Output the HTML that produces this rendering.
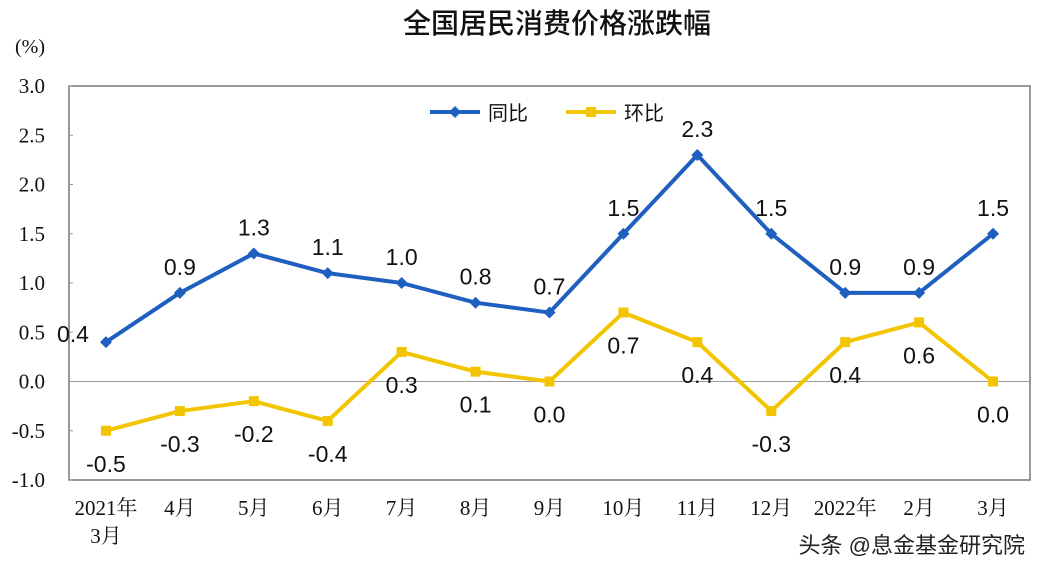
<!DOCTYPE html>
<html><head><meta charset="utf-8"><style>
body{margin:0;background:#fff;}
svg text{font-family:"Liberation Sans","Noto Sans CJK SC",sans-serif;}
.serif{font-family:"Liberation Serif","Noto Serif CJK SC","Noto Sans CJK SC",serif !important;}
</style></head><body>
<svg id="chart" width="1042" height="574" xmlns="http://www.w3.org/2000/svg">
<text x="557" y="33" font-size="28" text-anchor="middle" fill="#111" font-weight="500">全国居民消费价格涨跌幅</text>
<text x="30" y="53" font-size="20" text-anchor="middle" fill="#111" class="serif">(%)</text>
<rect x="69" y="86" width="961" height="394" fill="none" stroke="#777" stroke-width="1.5"/>
<g id="yticks"></g><g id="xticks"></g><g id="series"></g>
<g>
<line x1="430" y1="112" x2="480" y2="112" stroke="#1f5fbf" stroke-width="4"/>
<path d="M455 106 L461 112 L455 118 L449 112Z" fill="#1f5fbf"/>
<text x="488" y="120" font-size="20" fill="#111">同比</text>
<line x1="566" y1="112" x2="616" y2="112" stroke="#f2c500" stroke-width="4"/>
<rect x="586" y="107" width="10" height="10" fill="#f2c500"/>
<text x="624" y="120" font-size="20" fill="#111">环比</text>
</g>
<text x="1025" y="553" font-size="22" text-anchor="end" fill="#222">头条 @息金基金研究院</text>
</svg>
<script>
const categories=["2021年|3月","4月","5月","6月","7月","8月","9月","10月","11月","12月","2022年","2月","3月"];
const yoy=[0.4,0.9,1.3,1.1,1.0,0.8,0.7,1.5,2.3,1.5,0.9,0.9,1.5];
const mom=[-0.5,-0.3,-0.2,-0.4,0.3,0.1,0.0,0.7,0.4,-0.3,0.4,0.6,0.0];
const yTicks=["3.0","2.5","2.0","1.5","1.0","0.5","0.0","-0.5","-1.0"];
const NS="http://www.w3.org/2000/svg";
const L=69,R=1030,T=86,B=480,ymin=-1,ymax=3;
const bw=(R-L)/categories.length;
const xs=i=>L+bw*(i+0.5);
const ys=v=>B-(v-ymin)/(ymax-ymin)*(B-T);
function mk(tag,attrs,parent){const e=document.createElementNS(NS,tag);for(const k in attrs)e.setAttribute(k,attrs[k]);parent.appendChild(e);return e;}
const yg=document.getElementById('yticks');
yTicks.forEach(t=>{const v=parseFloat(t);
 const e=mk('text',{x:45,y:ys(v)+7,'font-size':21,'text-anchor':'end',fill:'#111',class:'serif'},yg);
 
 
 e.textContent=t;
 const tk=mk('line',{x1:L,x2:L+4,y1:ys(v),y2:ys(v),stroke:'#999'},yg);
 
 
});
const zl=mk('line',{x1:L,x2:R,y1:ys(0),y2:ys(0),stroke:'#999','stroke-width':1},yg);


const xg=document.getElementById('xticks');
categories.forEach((c,i)=>{const parts=c.split('|');
 parts.forEach((p,j)=>{const e=mk('text',{x:xs(i),y:515+j*28,'font-size':21,'text-anchor':'middle',fill:'#111',class:'serif'},xg);
 
 
 e.textContent=p;});
});
const sg=document.getElementById('series');
function series(vals,color,name,marker,above){
 const pl=mk('polyline',{points:vals.map((v,i)=>xs(i)+','+ys(v)).join(' '),fill:'none',stroke:color,'stroke-width':4,'stroke-linejoin':'round'},sg);
 
 
 vals.forEach((v,i)=>{const x=xs(i),y=ys(v);let m;
  if(marker==='d')m=mk('path',{d:`M${x} ${y-6}L${x+6} ${y}L${x} ${y+6}L${x-6} ${y}Z`,fill:color},sg);
  else m=mk('rect',{x:x-5,y:y-5,width:10,height:10,fill:color},sg);
  
  
  let lx=x,ly=above?y-18:y+41;
  if(above&&i===0){lx=x-33;ly=y+0;}
  const t=mk('text',{x:lx,y:ly,'font-size':23,'text-anchor':'middle',fill:'#111'},sg);
  
  
  t.textContent=v.toFixed(1);
 });
}
series(mom,'#f2c500','mom','s',false);
series(yoy,'#1f5fbf','yoy','d',true);
</script>
</body></html>
